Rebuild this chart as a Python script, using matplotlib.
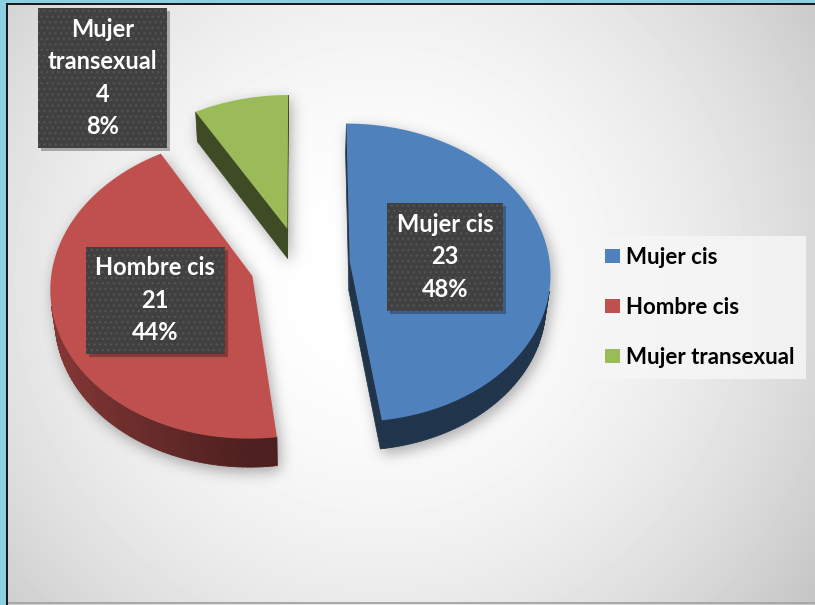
import textwrap
import numpy as np
import matplotlib
matplotlib.use("Agg")
import matplotlib.pyplot as plt
from matplotlib.patches import Polygon, Rectangle, Patch
from matplotlib.collections import PolyCollection
from matplotlib.path import Path
from matplotlib.transforms import offset_copy

# ---- data -------------------------------------------------------------
categories = ["Mujer cis", "Hombre cis", "Mujer transexual"]
counts = [23, 21, 4]
colors = ["#4F81BD", "#C0504D", "#9BBB59"]

# ---- figure in pixel coordinates ---------------------------------------
W, H = 815, 605
fig = plt.figure(figsize=(W / 100, H / 100), dpi=100)
ax = fig.add_axes([0, 0, 1, 1])
ax.set_xlim(0, W)
ax.set_ylim(H, 0)
ax.axis("off")

# radial grey-to-white background
yy, xx = np.mgrid[0:H, 0:W] + 0.5
rr = np.hypot(xx - 380, yy - 280) / 540
bg = 1 - 0.23 * np.clip(rr, 0, 1.2) ** 2
ax.imshow(bg, cmap="gray", vmin=0, vmax=1, extent=(0, W, H, 0),
          zorder=0, interpolation="bilinear", aspect="auto")

# ---- 3D pie geometry ----------------------------------------------------
EL = np.radians(48)      # viewing elevation
DIST = 9.0               # camera distance (pie radius = 1)
SCALE = 200.0            # pixels per unit radius at the pie centre
CX, CY = 300.0, 264.0    # screen position of the pie centre
THICK = 0.224            # pie thickness
EXPLODE = 0.25           # radial explosion of each slice
CAM = np.array([0.0, -DIST * np.cos(EL), DIST * np.sin(EL)])


def project(X, Y, Z):
    X, Y, Z = np.asarray(X, float), np.asarray(Y, float), np.asarray(Z, float)
    depth = DIST + Y * np.cos(EL) - Z * np.sin(EL)
    u = SCALE * DIST * X / depth
    v = SCALE * DIST * (Y * np.sin(EL) + Z * np.cos(EL)) / depth
    return np.column_stack([CX + u, CY - v])


def visible(normal, point):
    return np.dot(normal, CAM - point) > 0


def shade(hexcol, f):
    rgb = np.array(matplotlib.colors.to_rgb(hexcol))
    return tuple(np.clip(rgb * f, 0, 1))


def convex_hull(pts):
    pts = sorted(map(tuple, pts))
    def cross(o, a, b):
        return (a[0] - o[0]) * (b[1] - o[1]) - (a[1] - o[1]) * (b[0] - o[0])
    lower, upper = [], []
    for p in pts:
        while len(lower) >= 2 and cross(lower[-2], lower[-1], p) <= 0:
            lower.pop()
        lower.append(p)
    for p in reversed(pts):
        while len(upper) >= 2 and cross(upper[-2], upper[-1], p) <= 0:
            upper.pop()
        upper.append(p)
    return np.array(lower[:-1] + upper[:-1])


def blur(img, sigma):
    ky = np.fft.fftfreq(img.shape[0])
    kx = np.fft.fftfreq(img.shape[1])
    g = np.exp(-2 * (np.pi * sigma) ** 2 * (ky[:, None] ** 2 + kx[None, :] ** 2))
    return np.real(np.fft.ifft2(np.fft.fft2(img) * g))


total = sum(counts)
fracs = np.array(counts) / total
starts = 90 - 360 * np.concatenate([[0], np.cumsum(fracs)[:-1]])
ends = starts - 360 * fracs

slices = []
for i in range(len(counts)):
    a0, a1 = np.radians(ends[i]), np.radians(starts[i])
    mid = 0.5 * (a0 + a1)
    ox, oy = EXPLODE * np.cos(mid), EXPLODE * np.sin(mid)
    slices.append(dict(i=i, a0=a0, a1=a1, mid=mid, ox=ox, oy=oy))

# drop shadow under the slices
gx = xx.ravel()
gy = yy.ravel()
mask = np.zeros(H * W)
for s in slices:
    t = np.linspace(s["a0"], s["a1"], 80)
    Xs = np.concatenate([[s["ox"]], s["ox"] + np.cos(t)])
    Ys = np.concatenate([[s["oy"]], s["oy"] + np.sin(t)])
    pts = np.vstack([project(Xs, Ys, np.zeros_like(Xs)),
                     project(Xs, Ys, -THICK * np.ones_like(Xs))])
    hull = convex_hull(pts)
    inside = Path(hull + np.array([3, 5])).contains_points(np.column_stack([gx, gy]))
    mask = np.maximum(mask, inside.astype(float))
shadow = np.clip(blur(mask.reshape(H, W), 7), 0, 1)
rgba = np.zeros((H, W, 4))
rgba[..., 3] = 0.33 * shadow
ax.imshow(rgba, extent=(0, W, H, 0), zorder=1, interpolation="bilinear", aspect="auto")

# draw far slices first
order = sorted(slices, key=lambda s: -s["oy"])
for s in order:
    col = colors[s["i"]]
    ox, oy, a0, a1 = s["ox"], s["oy"], s["a0"], s["a1"]
    z = 2 + 0.1 * order.index(s)

    # radial cut faces
    for a, n in ((a1, np.array([-np.sin(a1), np.cos(a1), 0])),
                 (a0, np.array([np.sin(a0), -np.cos(a0), 0]))):
        p = np.array([ox + 0.5 * np.cos(a), oy + 0.5 * np.sin(a), -THICK / 2])
        if visible(n, p):
            X = [ox, ox + np.cos(a), ox + np.cos(a), ox]
            Y = [oy, oy + np.sin(a), oy + np.sin(a), oy]
            Zs = [0, 0, -THICK, -THICK]
            ax.add_patch(Polygon(project(X, Y, Zs), closed=True,
                                 fc=shade(col, 0.4), ec=shade(col, 0.4),
                                 lw=0.5, zorder=z))

    # outer rim
    t = np.linspace(a0, a1, 120)
    quads, qcols = [], []
    for k in range(len(t) - 1):
        tm = 0.5 * (t[k] + t[k + 1])
        n = np.array([np.cos(tm), np.sin(tm), 0])
        p = np.array([ox + np.cos(tm), oy + np.sin(tm), -THICK / 2])
        if not visible(n, p):
            continue
        X = ox + np.cos([t[k], t[k + 1], t[k + 1], t[k]])
        Y = oy + np.sin([t[k], t[k + 1], t[k + 1], t[k]])
        Zs = [0, 0, -THICK, -THICK]
        quads.append(project(X, Y, Zs))
        qcols.append(shade(col, 0.4 + 0.3 * max(0.0, -np.cos(tm))))
    if quads:
        ax.add_collection(PolyCollection(quads, facecolors=qcols, edgecolors=qcols,
                                         linewidths=0.6, zorder=z))

    # top face
    X = np.concatenate([[ox], ox + np.cos(t)])
    Y = np.concatenate([[oy], oy + np.sin(t)])
    ax.add_patch(Polygon(project(X, Y, np.zeros_like(X)), closed=True,
                         fc=col, ec="none", zorder=z + 0.05))

# ---- data labels ----------------------------------------------------------
label_radius = [0.48, 0.5, 1.53]
label_turn = [0, 0, 27]
font = ["Lato", "DejaVu Sans"]
shadow_tr = offset_copy(ax.transData, fig=fig, x=3, y=-3, units="dots")
for s in slices:
    i = s["i"]
    ang = s["mid"] + np.radians(label_turn[i])
    X = s["ox"] + label_radius[i] * np.cos(ang)
    Y = s["oy"] + label_radius[i] * np.sin(ang)
    lx, ly = project([X], [Y], [0])[0]
    pct = round(100 * counts[i] / total)
    txt = f"{textwrap.fill(categories[i], 11)}\n{counts[i]}\n{pct}%"
    style = dict(ha="center", va="center", fontsize=17, fontweight="bold",
                 family=font, linespacing=1.5)
    ax.text(lx, ly, txt, transform=shadow_tr, color="none", zorder=9,
            bbox=dict(boxstyle="square,pad=0.42", fc=(0, 0, 0, 0.28), ec="none"),
            **style)
    ax.text(lx, ly, txt, color="white", zorder=10,
            bbox=dict(boxstyle="square,pad=0.42", fc="#404040", ec="#535353",
                      lw=0, hatch="..."),
            **style)

# ---- legend ---------------------------------------------------------------
handles = [Patch(fc=c, ec="none", label=l) for c, l in zip(colors, categories)]
leg = ax.legend(handles=handles, loc="upper left",
                bbox_to_anchor=(594 / W, 1 - 236 / H), borderaxespad=0,
                frameon=True, facecolor="#F6F6F6", edgecolor="none",
                framealpha=0.85, fancybox=False,
                prop=dict(family=font, weight="bold", size=16),
                handlelength=0.65, handleheight=0.6, handletextpad=0.3,
                labelspacing=1.3, borderpad=0.5)
leg.set_zorder(11)

# ---- chart frame ------------------------------------------------------------
frame_blue = "#8ECFE0"
ax.add_patch(Rectangle((0, 0), 6, H, fc=frame_blue, ec="none", zorder=20))
ax.add_patch(Rectangle((0, 0), W, 3.3, fc=frame_blue, ec="none", zorder=20))
ax.add_patch(Rectangle((6, 3.3), 1.6, H, fc="#1A1A1A", ec="none", zorder=21))
ax.add_patch(Rectangle((6, 3.3), W, 1.5, fc="#1A1A1A", ec="none", zorder=21))
ax.add_patch(Rectangle((7.6, 602), W, 1.5, fc="#A8A8A8", ec="none", zorder=21))

fig.savefig("out.png", dpi=100)
